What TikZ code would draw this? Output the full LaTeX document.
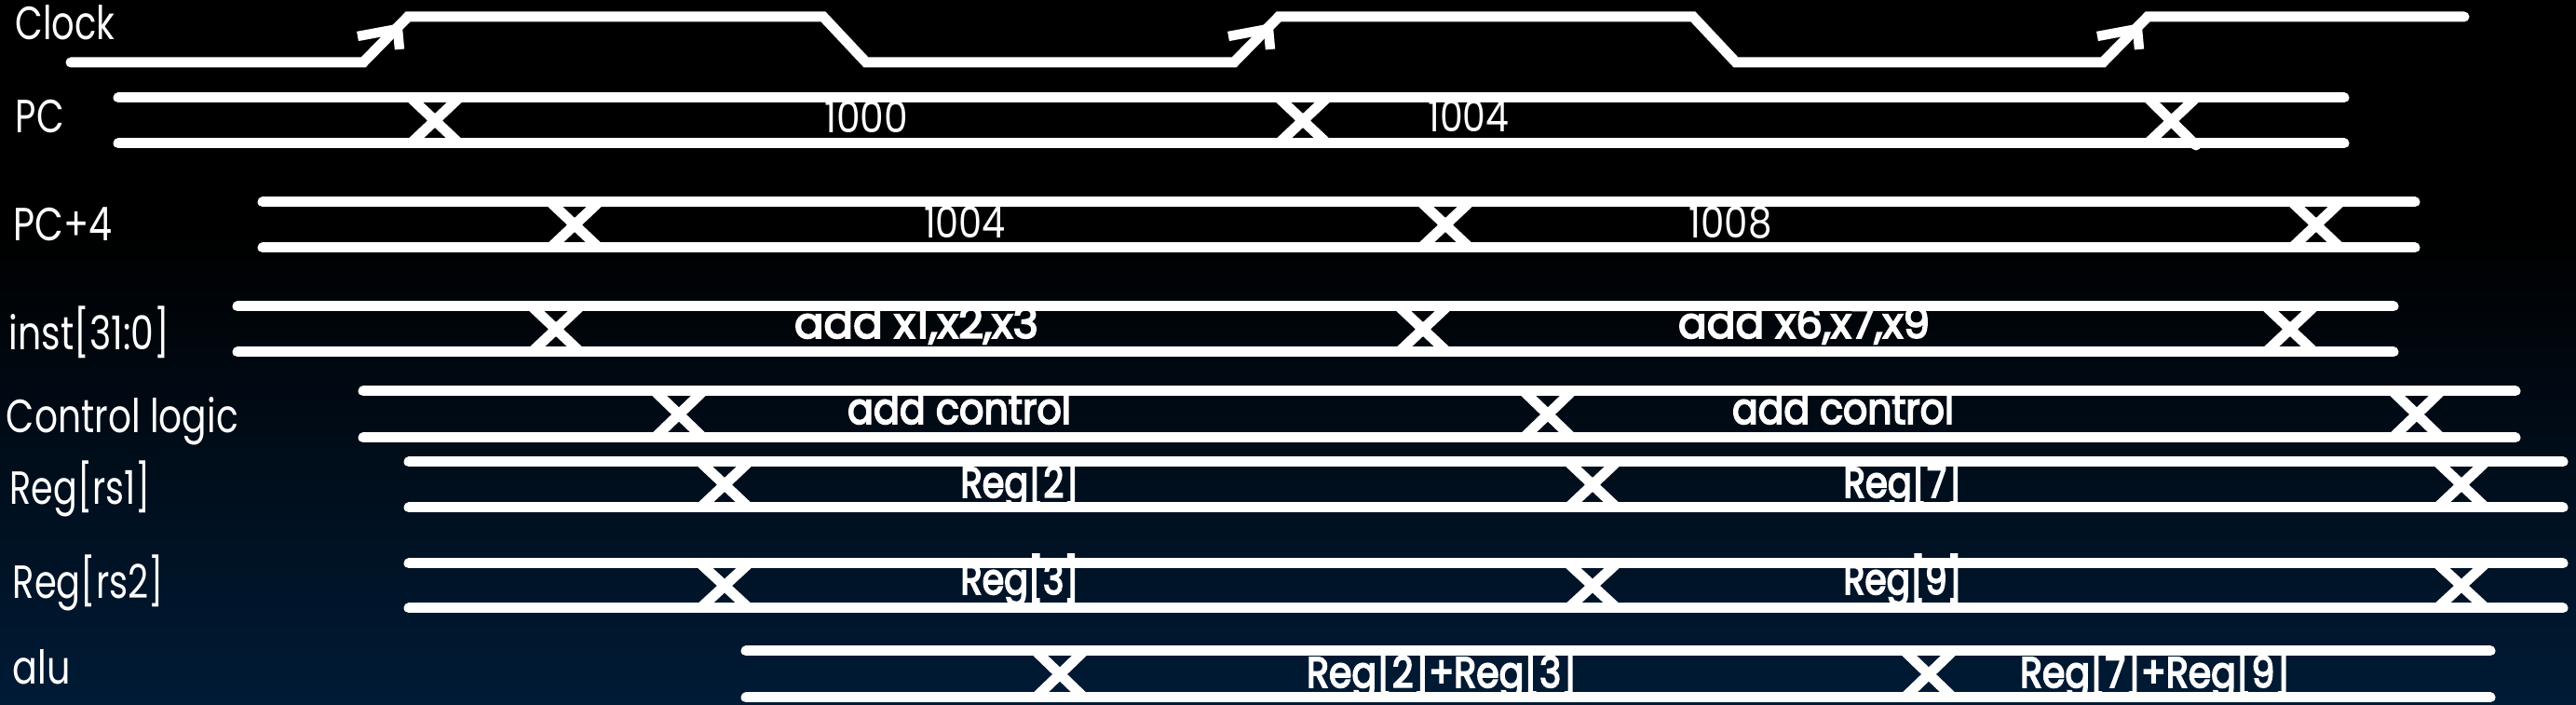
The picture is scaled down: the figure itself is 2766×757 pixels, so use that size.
\documentclass[tikz,border=0pt]{standalone}
\usepackage{fontspec}
\setmainfont{Poppins}
\newfontfamily\vfont[FakeBold=4]{Poppins}
\usepackage{graphicx}
\newdimen\pxu \pxu=0.25pt
\newcommand\tw[2]{\resizebox{#1\pxu}{\height}{#2}}
\definecolor{bgnavy}{RGB}{0,27,54}
\newcommand\buslines[4]{%
  \draw[sig] (#3,#1) -- (#4,#1);
  \draw[sig] (#3,#2) -- (#4,#2);}
\begin{document}
\begin{tikzpicture}[x=0.25pt,y=-0.25pt,
  sig/.style={white,line width=2.75pt,line cap=round,line join=miter},
  xc/.style={white,line width=2.75pt},
  arr/.style={white,line width=2.6pt},
  lbl/.style={text=white,anchor=base west,inner sep=0pt,font=\fontsize{12.5}{14}\selectfont},
  val/.style={text=white,anchor=base,inner sep=0pt,font=\fontsize{11.5}{13}\selectfont},
  bval/.style={text=white,anchor=base,inner sep=0pt,font=\fontsize{11.5}{13}\selectfont\vfont}]
\useasboundingbox (0,0) rectangle (2766,757);
\fill[black] (0,0) rectangle (2766,757);
\shade[top color=black,bottom color=bgnavy] (0,250) rectangle (2766,757);

% clock
\draw[sig] (76,67) -- (390,67) -- (438,18) -- (884,18) -- (930,67) -- (1325,67) -- (1373,18) -- (1818,18) -- (1864,67) -- (2258,67) -- (2306,18) -- (2646,18);
\foreach \r in {390,1325,2258}{
  \draw[arr] ({\r-6},39) -- ({\r+37},31) -- ({\r+39},53);
}

% buses
\buslines{105}{154}{127}{2517}
\foreach \x in {467,1399}
  \draw[xc] ({\x-26},105) -- ({\x+26},154) ({\x-26},154) -- ({\x+26},105);
\draw[xc] (2306,154) -- (2358,105);
\draw[xc,line cap=round] (2306,105) -- (2358,156);

\buslines{217}{266}{282}{2593}
\foreach \x in {617,1552,2487}
  \draw[xc] ({\x-26},217) -- ({\x+26},266) ({\x-26},266) -- ({\x+26},217);

\buslines{329}{378}{255}{2570}
\foreach \x in {597,1528,2459}
  \draw[xc] ({\x-26},329) -- ({\x+26},378) ({\x-26},378) -- ({\x+26},329);

\buslines{420}{470}{390}{2701}
\foreach \x in {729,1662,2595}
  \draw[xc] ({\x-26},420) -- ({\x+26},470) ({\x-26},470) -- ({\x+26},420);

\buslines{496}{545}{439}{2752}
\foreach \x in {778,1710,2643}
  \draw[xc] ({\x-26},496) -- ({\x+26},545) ({\x-26},545) -- ({\x+26},496);

\buslines{605}{653}{439}{2752}
\foreach \x in {778,1710,2643}
  \draw[xc] ({\x-26},605) -- ({\x+26},653) ({\x-26},653) -- ({\x+26},605);

\buslines{699}{749}{801}{2674}
\foreach \x in {1138,2071}
  \draw[xc] ({\x-26},699) -- ({\x+26},749) ({\x-26},749) -- ({\x+26},699);

% labels
\node[lbl] (lclock) at (16,43) {\tw{107}{Clock}};
\node[lbl] (lpc) at (16,143) {\tw{52}{PC}};
\node[lbl] (lpc4) at (14,259) {\tw{106}{PC+4}};
\node[lbl] (linst) at (9,376) {\tw{172}{inst[31:0]}};
\node[lbl] (lctl) at (6,465) {\tw{249}{Control logic}};
\node[lbl] (lrs1) at (10,542) {\tw{151}{Reg[rs1]}};
\node[lbl] (lrs2) at (13,643) {\tw{162}{Reg[rs2]}};
\node[lbl] (lalu) at (13,735) {\tw{62}{alu}};

% values
\node[val] (v1000) at (930,143) {\tw{90}{1000}};
\node[val] (v1004a) at (1577,142) {\tw{87}{1004}};
\node[val] (v1004b) at (1036,256) {\tw{88}{1004}};
\node[val] (v1008) at (1858,256) {\tw{89}{1008}};
\node[bval] (vi1) at (984,363) {\tw{262}{add x1,x2,x3}};
\node[bval] (vi2) at (1937,363) {\tw{270}{add x6,x7,x9}};
\node[bval] (vc1) at (1030,455) {\tw{240}{add control}};
\node[bval] (vc2) at (1979,455) {\tw{238}{add control}};
\node[bval] (vr2) at (1095,534) {\tw{127}{Reg[2]}};
\node[bval] (vr7) at (2043,534) {\tw{127}{Reg[7]}};
\node[bval] (vr3) at (1095,638) {\tw{127}{Reg[3]}};
\node[bval] (vr9) at (2043,638) {\tw{127}{Reg[9]}};
\node[bval] (va1) at (1548,738) {\tw{290}{Reg[2]+Reg[3]}};
\node[bval] (va2) at (2314,738) {\tw{290}{Reg[7]+Reg[9]}};
\end{tikzpicture}
\end{document}
